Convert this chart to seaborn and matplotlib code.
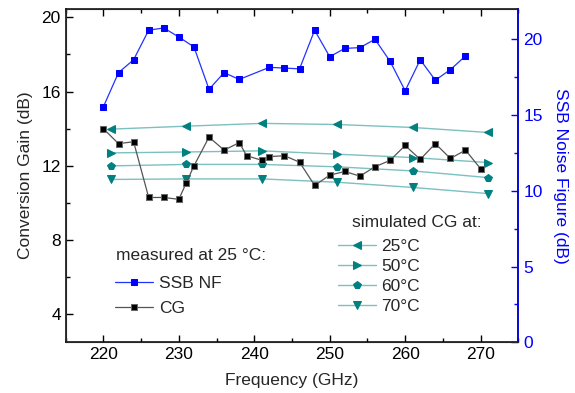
import matplotlib
matplotlib.use('Agg')
import matplotlib.pyplot as plt
from matplotlib.ticker import MultipleLocator
import seaborn as sns

# measured CG (dB)
cg_freq = [220, 222, 224, 226, 228, 230, 231, 232, 234, 236, 238, 239, 241, 242,
           244, 246, 248, 250, 252, 254, 256, 258, 260, 262, 264, 266, 268, 270]
cg_val = [14.0, 13.2, 13.3, 10.3, 10.3, 10.2, 11.1, 12.0, 13.55, 12.85, 13.25, 12.55,
          12.3, 12.5, 12.55, 12.2, 10.95, 11.5, 11.7, 11.45, 11.95, 12.3, 13.1, 12.35,
          13.2, 12.4, 12.85, 11.85]

# measured SSB NF (dB)
nf_freq = [220, 222, 224, 226, 228, 230, 232, 234, 236, 238, 242, 244, 246, 248,
           250, 252, 254, 256, 258, 260, 262, 264, 266, 268]
nf_val = [15.55, 17.8, 18.65, 20.6, 20.75, 20.15, 19.5, 16.7, 17.8, 17.35, 18.15, 18.1,
          18.05, 20.6, 18.85, 19.4, 19.45, 20.0, 18.55, 16.6, 18.65, 17.3, 18.0, 18.9]

# simulated CG (dB)
sim_freq = [221, 231, 241, 251, 261, 271]
sim_25 = [13.98, 14.14, 14.29, 14.23, 14.07, 13.8]
sim_50 = [12.7, 12.75, 12.81, 12.63, 12.45, 12.18]
sim_60 = [12.0, 12.08, 12.08, 11.95, 11.73, 11.37]
sim_70 = [11.27, 11.3, 11.3, 11.12, 10.84, 10.51]
sim_labels = ['25°C', '50°C', '60°C', '70°C']
sim_markers = ['<', '>', 'p', 'v']

FS = 12.5

sns.set_style('ticks')
plt.rcParams['font.family'] = ['Liberation Sans', 'DejaVu Sans']
plt.rcParams['font.size'] = FS

TEAL = '#008080'
TEAL_LINE = '#7cc0c0'

fig = plt.figure(figsize=(5.75, 3.93), dpi=100)
ax = fig.add_axes([65.7 / 575, 1 - 342.3 / 393, (518.3 - 65.7) / 575, (342.3 - 9) / 393])

sim_handles = []
for vals, lab, mk in zip([sim_25, sim_50, sim_60, sim_70], sim_labels, sim_markers):
    sns.lineplot(x=sim_freq, y=vals, ax=ax, color=TEAL_LINE, lw=1.0, marker=mk,
                 markersize=5.5, markerfacecolor=TEAL, markeredgecolor=TEAL, label=lab)
    sim_handles.append(ax.lines[-1])

sns.lineplot(x=cg_freq, y=cg_val, ax=ax, color='#555555', lw=0.9, marker='s',
             markersize=5, markerfacecolor='black', markeredgecolor='#666666', label='CG')
cg_line = ax.lines[-1]
if ax.get_legend():
    ax.get_legend().remove()

ax.set_xlim(215, 275)
ax.set_ylim(2.5, 20.45)
ax.xaxis.set_major_locator(MultipleLocator(10))
ax.xaxis.set_minor_locator(MultipleLocator(5))
ax.yaxis.set_major_locator(MultipleLocator(4))
ax.yaxis.set_minor_locator(MultipleLocator(2))
ax.tick_params(which='both', direction='in', top=True, right=False, width=1, colors='black',
               labelsize=FS)
ax.tick_params(which='major', length=5)
ax.tick_params(which='minor', length=3)
ax.set_xlabel('Frequency (GHz)', fontsize=FS, labelpad=8)
ax.set_ylabel('Conversion Gain (dB)', fontsize=FS, labelpad=6)
for s in ax.spines.values():
    s.set_linewidth(1.1)
    s.set_color('black')

ax2 = ax.twinx()
sns.lineplot(x=nf_freq, y=nf_val, ax=ax2, color='#2233ff', lw=0.9, marker='s',
             markersize=5, markerfacecolor='#0000ff', markeredgecolor='#0000ff', label='SSB NF')
nf_line = ax2.lines[-1]
if ax2.get_legend():
    ax2.get_legend().remove()
ax2.set_ylim(0, 22)
ax2.yaxis.set_major_locator(MultipleLocator(5))
ax2.yaxis.set_minor_locator(MultipleLocator(2.5))
ax2.tick_params(which='both', direction='in', colors='#0000ff', width=1, labelsize=FS)
ax2.tick_params(which='major', length=5)
ax2.tick_params(which='minor', length=3)
ax2.spines['right'].set_color('#0000ff')
ax2.spines['right'].set_linewidth(1.1)
ax2.set_ylabel('SSB Noise Figure (dB)', color='#0000ff', rotation=270, labelpad=18, fontsize=FS)

ax2.text(116 / 575, 1 - 256 / 393, 'measured at 25 °C:', transform=fig.transFigure,
         ha='left', va='center', fontsize=FS)
leg1 = ax2.legend([nf_line, cg_line], ['SSB NF', 'CG'], loc='upper left',
                  bbox_to_anchor=(115 / 575, 1 - 276 / 393), bbox_transform=fig.transFigure,
                  frameon=False, borderpad=0, borderaxespad=0, labelspacing=0.58,
                  handlelength=2.2, handletextpad=0.35, fontsize=FS)
ax2.add_artist(leg1)

ax2.text(352 / 575, 1 - 222 / 393, 'simulated CG at:', transform=fig.transFigure,
         ha='left', va='center', fontsize=FS)
ax2.legend(sim_handles, sim_labels, loc='upper left',
           bbox_to_anchor=(338 / 575, 1 - 239 / 393), bbox_transform=fig.transFigure,
           frameon=False, borderpad=0, borderaxespad=0, labelspacing=0.28,
           handlelength=2.2, handletextpad=0.3, fontsize=FS)

fig.savefig('out.png', dpi=100)
